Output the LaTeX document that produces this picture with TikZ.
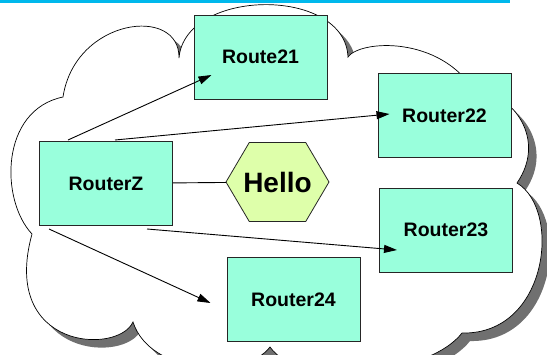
\documentclass[tikz,border=0pt]{standalone}
\usepackage{fontspec}
\setmainfont{Liberation Sans}
\usetikzlibrary{shapes.symbols}
\usetikzlibrary{arrows.meta}
\usetikzlibrary{calc}

\definecolor{routerfill}{RGB}{153,255,220}
\definecolor{hellofill}{RGB}{222,255,170}
\definecolor{bandblue}{RGB}{0,184,236}
\definecolor{shadowgray}{RGB}{112,112,112}

% the cloud, so it can be laid down once as shadow and once as body
\newcommand{\cloudshape}[1]{%
  \path[#1] (63,97) .. controls (75,18) and (180,5) .. (179,58)
    .. controls (185,-12) and (345,-14) .. (348,57)
    .. controls (360,40) and (440,35) .. (475,92)
    .. controls (505,88) and (550,135) .. (517,183)
    .. controls (562,210) and (548,335) .. (462,333)
    .. controls (430,375) and (300,390) .. (270,347)
    .. controls (245,380) and (150,375) .. (133,322)
    .. controls (118,355) and (0,350) .. (32,234)
    .. controls (0,200) and (0,110) .. cycle;}

\begin{document}
\begin{tikzpicture}[x=1pt, y=-1pt,
  router/.style = {draw=black!85, line width=1pt, fill=routerfill, minimum width=133pt, minimum height=84pt, inner sep=0pt, font=\fontsize{19.5}{22}\selectfont\bfseries},
  hello/.style = {signal, signal to=east and west, signal pointer angle=119, draw=black!85, line width=0.8pt, fill=hellofill, minimum width=103pt, minimum height=79pt, inner xsep=-6.3pt, inner ysep=0pt, font=\fontsize{28}{32}\selectfont\bfseries},
  arr/.style = {-{Triangle[length=13pt,width=8pt]}, line width=0.9pt}]

\useasboundingbox (0,0) rectangle (547,354);
\clip (0,0) rectangle (547,354);

\fill[bandblue] (0,0) rectangle (510,3);

\cloudshape{fill=shadowgray, shift={(8,8)}}
\cloudshape{draw, fill=white, line width=0.7pt}

\node[router] (rz) at (106,183.5) {RouterZ};
\node[router] (r21) at (260.5,57) {Route21};
\node[router] (r22) at (444.5,115.5) {Router22};
\node[router] (r23) at (446,230) {Router23};
\node[router] (r24) at (293.5,299.5) {Router24};
\node[hello] (hello) at (277.5,182) {Hello};

\draw[line width=0.9pt] (rz) -- (hello);
\draw[arr] ($(rz.north west)+(29,-1)$) -- ($(r21.west)+(18,18)$);
\draw[arr] ($(rz.north west)+(76,-1)$) -- ($(r22.west)+(12,-1.5)$);
\draw[arr] ($(rz.south west)+(108,3)$) -- ($(r23.west)+(18,20)$);
\draw[arr] ($(rz.south west)+(10,3)$) -- ($(r24.west)+(-16,3.5)$);

\end{tikzpicture}
\end{document}
